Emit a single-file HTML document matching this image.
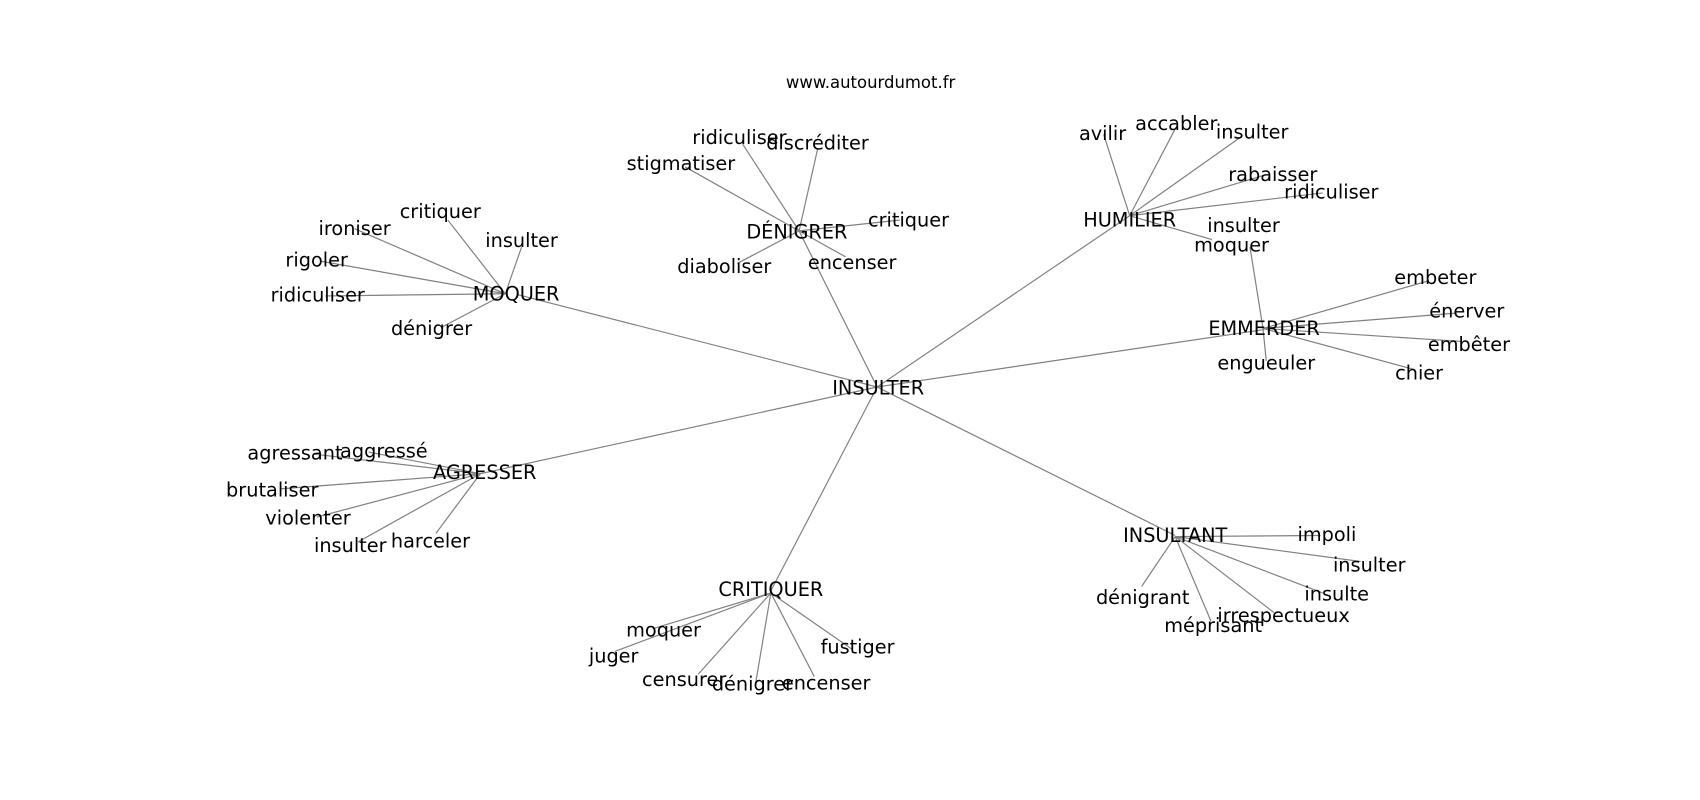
<!DOCTYPE html>
<html><head><meta charset="utf-8"><style>html,body{margin:0;padding:0;background:#fff;}svg{display:block}</style></head>
<body>
<svg width="1700" height="800" viewBox="0 0 1568 738" xmlns="http://www.w3.org/2000/svg">
<g stroke="#808080" stroke-width="1.1" fill="none">
<line x1="809" y1="357" x2="478" y2="272"/>
<line x1="809" y1="357" x2="737" y2="213"/>
<line x1="809" y1="357" x2="1042" y2="199"/>
<line x1="809" y1="357" x2="1166" y2="304"/>
<line x1="809" y1="357" x2="1084" y2="494"/>
<line x1="809" y1="357" x2="711" y2="545"/>
<line x1="809" y1="357" x2="443" y2="437"/>
<line x1="466" y1="271" x2="413" y2="203"/>
<line x1="466" y1="271" x2="327" y2="211"/>
<line x1="466" y1="271" x2="481" y2="228"/>
<line x1="466" y1="271" x2="296" y2="241"/>
<line x1="466" y1="271" x2="300" y2="273"/>
<line x1="466" y1="271" x2="407" y2="302"/>
<line x1="737" y1="213" x2="685" y2="133"/>
<line x1="737" y1="213" x2="754" y2="138"/>
<line x1="737" y1="213" x2="632" y2="154"/>
<line x1="737" y1="213" x2="830" y2="203"/>
<line x1="737" y1="213" x2="680" y2="243"/>
<line x1="737" y1="213" x2="780" y2="237"/>
<line x1="1042" y1="199" x2="1018" y2="124"/>
<line x1="1042" y1="199" x2="1085" y2="117"/>
<line x1="1042" y1="199" x2="1145" y2="126"/>
<line x1="1042" y1="199" x2="1165" y2="162"/>
<line x1="1042" y1="199" x2="1220" y2="178"/>
<line x1="1042" y1="199" x2="1118" y2="221"/>
<line x1="1165" y1="303" x2="1153" y2="228"/>
<line x1="1165" y1="303" x2="1168" y2="333"/>
<line x1="1165" y1="303" x2="1318" y2="259"/>
<line x1="1165" y1="303" x2="1342" y2="289"/>
<line x1="1165" y1="303" x2="1348" y2="315"/>
<line x1="1165" y1="303" x2="1305" y2="341"/>
<line x1="1084" y1="495" x2="1218" y2="494"/>
<line x1="1084" y1="495" x2="1255" y2="518"/>
<line x1="1084" y1="495" x2="1220" y2="547"/>
<line x1="1084" y1="495" x2="1175" y2="565"/>
<line x1="1084" y1="495" x2="1117" y2="573"/>
<line x1="1084" y1="495" x2="1053" y2="541"/>
<line x1="711" y1="547" x2="602" y2="580"/>
<line x1="711" y1="547" x2="567" y2="601"/>
<line x1="711" y1="547" x2="644" y2="622"/>
<line x1="711" y1="547" x2="697" y2="630"/>
<line x1="711" y1="547" x2="751" y2="624"/>
<line x1="711" y1="547" x2="786" y2="599"/>
<line x1="443" y1="437" x2="290" y2="419"/>
<line x1="443" y1="437" x2="340" y2="417"/>
<line x1="443" y1="437" x2="258" y2="451"/>
<line x1="443" y1="437" x2="292" y2="477"/>
<line x1="443" y1="437" x2="330" y2="500"/>
<line x1="443" y1="437" x2="402" y2="492"/>
</g>
<g font-family="'DejaVu Sans', 'Liberation Sans', sans-serif" font-size="17.8" fill="#000" text-anchor="middle" dominant-baseline="central">
<text x="803" y="76" font-size="15.2">www.autourdumot.fr</text>
<text x="810" y="358">INSULTER</text>
<text x="476" y="271">MOQUER</text>
<text x="735" y="214">DÉNIGRER</text>
<text x="1042" y="203">HUMILIER</text>
<text x="1166" y="303">EMMERDER</text>
<text x="1084" y="494">INSULTANT</text>
<text x="711" y="544">CRITIQUER</text>
<text x="447" y="436">AGRESSER</text>

<text x="406" y="195">critiquer</text>
<text x="327" y="211">ironiser</text>
<text x="481" y="222">insulter</text>
<text x="292" y="240">rigoler</text>
<text x="293" y="272">ridiculiser</text>
<text x="398" y="303">dénigrer</text>

<text x="682" y="127">ridiculiser</text>
<text x="754" y="132">discréditer</text>
<text x="628" y="151">stigmatiser</text>
<text x="838" y="203">critiquer</text>
<text x="668" y="246">diaboliser</text>
<text x="786" y="242">encenser</text>

<text x="1017" y="123">avilir</text>
<text x="1085" y="114">accabler</text>
<text x="1155" y="122">insulter</text>
<text x="1174" y="161">rabaisser</text>
<text x="1228" y="177">ridiculiser</text>
<text x="1147" y="208">insulter</text>
<text x="1136" y="226">moquer</text>

<text x="1324" y="256">embeter</text>
<text x="1353" y="287">énerver</text>
<text x="1355" y="318">embêter</text>
<text x="1309" y="344">chier</text>
<text x="1168" y="335">engueuler</text>

<text x="1224" y="493">impoli</text>
<text x="1263" y="521">insulter</text>
<text x="1233" y="548">insulte</text>
<text x="1184" y="568">irrespectueux</text>
<text x="1119" y="577">méprisant</text>
<text x="1054" y="551">dénigrant</text>

<text x="612" y="581">moquer</text>
<text x="566" y="605">juger</text>
<text x="631" y="627">censurer</text>
<text x="694" y="631">dénigrer</text>
<text x="762" y="630">encenser</text>
<text x="791" y="597">fustiger</text>

<text x="272" y="418">agressant</text>
<text x="354" y="416">aggressé</text>
<text x="251" y="452">brutaliser</text>
<text x="284" y="478">violenter</text>
<text x="323" y="503">insulter</text>
<text x="397" y="499">harceler</text>
</g>
</svg>
</body></html>
